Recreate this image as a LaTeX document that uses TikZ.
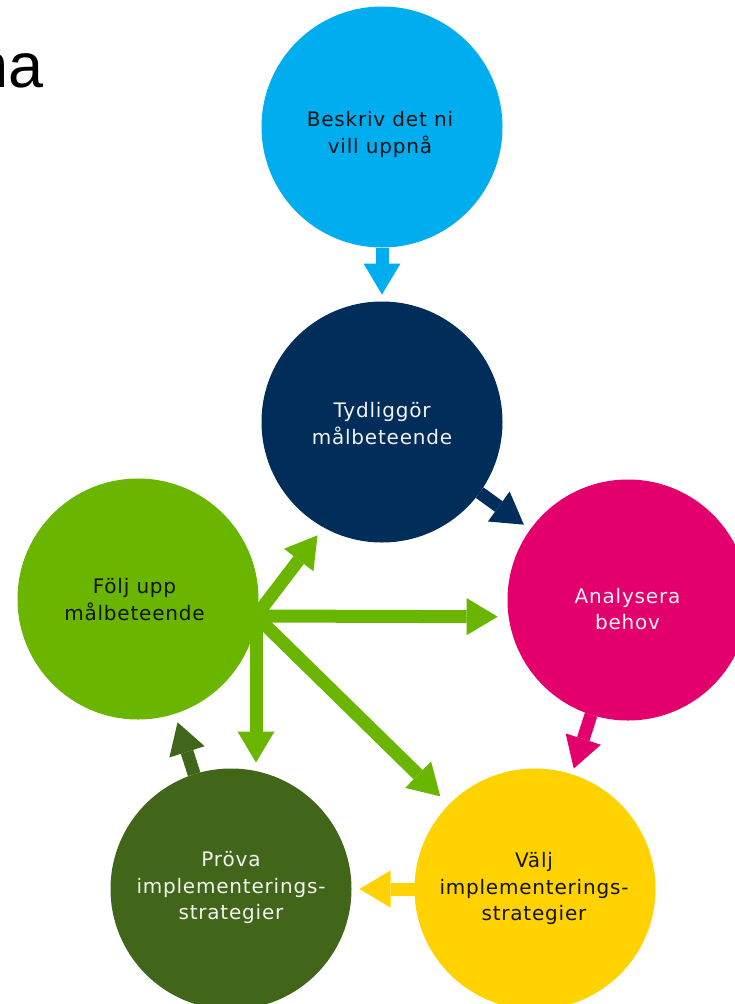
\documentclass[tikz,border=0pt]{standalone}
\usepackage{fontspec}
\setmainfont{DejaVu Sans}
\newfontfamily\titlefont{Liberation Sans}
\newfontfamily\stepfont[LetterSpace=4]{DejaVu Sans}
\usetikzlibrary{arrows.meta}
\definecolor{skyblue}{HTML}{00AEEF}
\definecolor{navy}{HTML}{002D5A}
\definecolor{cmag}{HTML}{E3006D}
\definecolor{sun}{HTML}{FFD200}
\definecolor{moss}{HTML}{426619}
\definecolor{leaf}{HTML}{6AB500}
\definecolor{darktxt}{HTML}{141414}
\definecolor{lighttxt}{HTML}{F2F2F2}
\tikzset{
  stage/.style={circle,minimum size=241pt,inner sep=0pt,outer sep=0pt},
  txt/.style={align=center,inner sep=0pt,font=\stepfont\fontsize{20}{26.5}\selectfont},
  blk/.style={line width=13pt,-{Triangle[width=37pt,length=31pt,line width=0pt]}},
}
\begin{document}
\begin{tikzpicture}[x=1pt,y=-1pt]
  \useasboundingbox (0,0) rectangle (735,1004);
  \clip (0,0) rectangle (735,1004);
  \node[anchor=base east,inner sep=0pt,font=\titlefont\fontsize{63}{70}\selectfont] (title) at (44,87) {na};
  % the six steps
  \node[stage,fill=skyblue] (besk) at (382,127) {};
  \node[stage,fill=navy] (tydl) at (382,422) {};
  \node[stage,fill=cmag] (anal) at (628,600) {};
  \node[stage,fill=sun] (valj) at (535,889) {};
  \node[stage,fill=moss] (prov) at (231,889) {};
  \node[stage,fill=leaf] (folj) at (138,599) {};
  % the cycle
  \draw[blk,skyblue,shorten >=7pt] (besk) -- (tydl);
  \draw[blk,navy,shorten >=8pt] (tydl) -- (anal);
  \draw[blk,cmag,shorten >=6pt] (anal) -- (valj);
  \draw[blk,sun,shorten >=8pt] (valj) -- (prov);
  \draw[blk,moss,shorten >=9pt] (prov) -- (folj);
  % follow-up spokes
  \coordinate (hub) at (256,616);
  \draw[blk,leaf,shorten >=10pt] (hub) -- (tydl.241);
  \draw[blk,leaf,shorten >=11pt] (hub) -- (anal.188);
  \draw[blk,leaf,shorten >=6pt] (hub) -- (hub |- prov.north);
  \draw[blk,leaf,shorten >=12pt] (hub) -- (valj);
  % labels
  \node[txt,text=darktxt] (beskT) at (380,134.5) {Beskriv det ni\\vill uppnå};
  \node[txt,text=lighttxt] (tydlT) at (382,423.5) {Tydliggör\\målbeteende};
  \node[txt,text=lighttxt] (analT) at (627.5,609) {Analysera\\behov};
  \node[txt,text=darktxt] (foljT) at (134.5,599.5) {Följ upp\\målbeteende};
  \node[txt,text=lighttxt] (provT) at (231,887.5) {Pröva\\implementerings-\\strategier};
  \node[txt,text=darktxt] (valjT) at (534,888.5) {Välj\\implementerings-\\strategier};
\end{tikzpicture}
\end{document}
